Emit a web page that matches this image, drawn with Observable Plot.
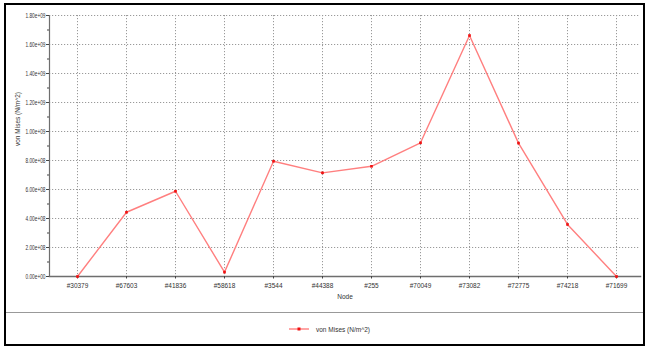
<!DOCTYPE html>
<html>
<head>
<meta charset="utf-8">
<script src="https://cdn.jsdelivr.net/npm/d3@7"></script>
<script src="https://cdn.jsdelivr.net/npm/@observablehq/plot@0.6"></script>
<style>
  html, body { margin: 0; padding: 0; background: #fff; }
  #wrap { position: relative; width: 645px; height: 347px; overflow: hidden;
          font-family: "Liberation Sans Narrow", "Arial Narrow", "Liberation Sans", sans-serif; }
  #chart { position: absolute; left: 0; top: 0; }
  #frame { position: absolute; left: 4px; top: 3px; width: 637px; height: 339px;
           border: 2px solid #000; box-sizing: content-box; pointer-events: none; }
  #sep { position: absolute; left: 6px; top: 312px; width: 637px; height: 0;
         border-top: 1px solid #999; }
  #legend { position: absolute; left: 289px; top: 323px; height: 12px;
            display: flex; align-items: center; font-size: 6.5px; color: #333; }
  #legend svg { margin-right: 7px; }
</style>
</head>
<body>
<div id="wrap">
  <div id="chart"></div>
  <div id="sep"></div>
  <div id="legend"></div>
  <div id="frame"></div>
</div>
<script>
// Nodes along the path and the von Mises stress at each (N/m^2)
const nodes = ["#30379", "#67603", "#41836", "#58618", "#3544", "#44388",
               "#255", "#70049", "#73082", "#72775", "#74218", "#71699"];
const stress = [0, 4.43e8, 5.88e8, 3.0e7, 7.95e8, 7.15e8,
                7.6e8, 9.22e8, 1.662e9, 9.2e8, 3.59e8, 0];

// Axis ticks
const yMajor = [0, 2e8, 4e8, 6e8, 8e8, 1e9, 1.2e9, 1.4e9, 1.6e9, 1.8e9];
const yMinor = [1e8, 3e8, 5e8, 7e8, 9e8, 1.1e9, 1.3e9, 1.5e9, 1.7e9];

const seriesName = "von Mises (N/m^2)";
const lineColor = "#ff7f7f";
const dotColor = "#f01010";

const data = nodes.map((node, i) => ({node, value: stress[i]}));

// Scientific notation with a two-digit exponent, e.g. 1.80e+09
function sci(v) {
  if (v === 0) return "0.00e+00";
  const e = Math.floor(Math.log10(Math.abs(v)));
  const m = v / Math.pow(10, e);
  return m.toFixed(2) + "e" + (e < 0 ? "-" : "+") + String(Math.abs(e)).padStart(2, "0");
}

const font = '"Liberation Sans Narrow", "Arial Narrow", "Liberation Sans", sans-serif';

const chart = Plot.plot({
  width: 645,
  height: 310,
  marginLeft: 49,
  marginRight: 5,
  marginTop: 15,
  marginBottom: 34,
  style: {fontFamily: font, fontSize: "7px", color: "#333", background: "transparent"},
  x: {type: "point", domain: nodes, padding: 0, insetLeft: 24, insetRight: 21},
  y: {domain: [0, 1.8e9]},
  marks: [
    // dotted grid
    Plot.gridY(yMajor.slice(1), {stroke: "#9a9a9a", strokeOpacity: 1, strokeDasharray: "1.2,1.8", strokeWidth: 1}),
    Plot.gridX(nodes, {stroke: "#9a9a9a", strokeOpacity: 1, strokeDasharray: "1.2,1.8", strokeWidth: 1}),
    // axis lines
    Plot.frame({anchor: "left", stroke: "#6e6e6e", strokeWidth: 1.2}),
    Plot.frame({anchor: "bottom", stroke: "#6e6e6e", strokeWidth: 1.5}),
    // y axis: major ticks with labels, minor ticks without
    Plot.axisY(yMajor, {tickSize: 3, tickPadding: 1, tickFormat: sci, stroke: "#444",
                        fill: "#333", fontSize: 6.5, label: null}),
    Plot.axisY(yMinor, {tickSize: 2, tickFormat: () => "", stroke: "#444", label: null}),
    Plot.axisX(nodes, {tickSize: 2.5, tickPadding: 4, stroke: "#444", fill: "#333",
                       fontSize: 7, label: null}),
    Plot.text(["Node"], {frameAnchor: "bottom", dy: 22, fill: "#333", fontSize: 6.5}),
    Plot.text([seriesName], {frameAnchor: "left", dx: -32, rotate: -90, fill: "#333", fontSize: 6.5}),
    // series
    Plot.line(data, {x: "node", y: "value", stroke: lineColor, strokeWidth: 1.4}),
    Plot.dot(data, {x: "node", y: "value", fill: dotColor, r: 1.5, symbol: "square"})
  ]
});
document.getElementById("chart").appendChild(chart);

// Condensed look for the tick labels
d3.select(chart).selectAll('g[aria-label="y-axis tick label"] text')
  .attr("textLength", 20).attr("lengthAdjust", "spacingAndGlyphs");
d3.select(chart).selectAll('g[aria-label="x-axis tick label"] text')
  .each(function () {
    const n = this.textContent.length;
    d3.select(this).attr("textLength", n * 3.6).attr("lengthAdjust", "spacingAndGlyphs");
  });

// Legend below the plot
const legend = document.getElementById("legend");
const key = d3.create("svg").attr("width", 20).attr("height", 6);
key.append("line").attr("x1", 0).attr("x2", 20).attr("y1", 3).attr("y2", 3)
   .attr("stroke", lineColor).attr("stroke-width", 1.4);
key.append("rect").attr("x", 8.5).attr("y", 1.5).attr("width", 3).attr("height", 3).attr("fill", dotColor);
legend.appendChild(key.node());
const label = document.createElement("span");
label.textContent = seriesName;
legend.appendChild(label);
</script>
</body>
</html>
